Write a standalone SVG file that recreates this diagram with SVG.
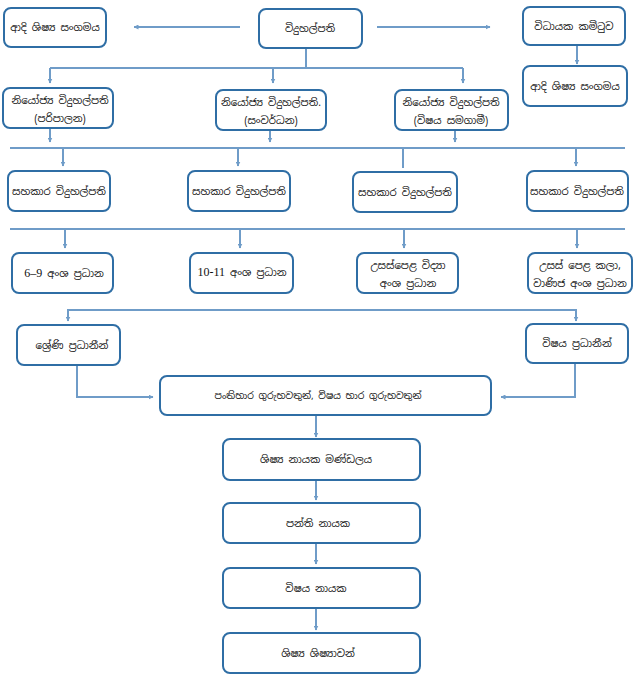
<svg xmlns="http://www.w3.org/2000/svg" width="641" height="679" viewBox="0 0 641 679">
<style>
.box{fill:#fff;stroke:#2f6ea5;stroke-width:2}
.c{fill:none;stroke:#6f9cc8;stroke-width:2}
.t{font-family:"Noto Sans Sinhala","Noto Sans","Liberation Sans",sans-serif;font-size:10.2px;fill:#111;text-anchor:middle}
.n{font-family:"Liberation Serif",serif;font-size:12px}
</style>
<defs>
<marker id="a" viewBox="0 0 10 10" refX="9" refY="5" markerWidth="5" markerHeight="5" orient="auto" markerUnits="userSpaceOnUse">
<path d="M0,0 L10,5 L0,10 z" fill="#6f9cc8"/>
</marker>
</defs>
<rect width="641" height="679" fill="#fff"/>
<g id="connectors">
<path class="c" d="M240,27 H134" marker-end="url(#a)"/>
<path class="c" d="M377,27 H490" marker-end="url(#a)"/>
<path class="c" d="M577,45 V64" marker-end="url(#a)"/>
<path class="c" d="M306,48 V68"/>
<path class="c" d="M50,68 H463"/>
<path class="c" d="M50,68 V83" marker-end="url(#a)"/>
<path class="c" d="M273,68 V83" marker-end="url(#a)"/>
<path class="c" d="M463,68 V83" marker-end="url(#a)"/>
<path class="c" d="M50,128 V142" marker-end="url(#a)"/>
<path class="c" d="M270,130 V142" marker-end="url(#a)"/>
<path class="c" d="M455,130 V142" marker-end="url(#a)"/>
<path class="c" d="M10,148 H625"/>
<path class="c" d="M63,148 V166" marker-end="url(#a)"/>
<path class="c" d="M238,148 V166" marker-end="url(#a)"/>
<path class="c" d="M403,148 V168"/>
<path class="c" d="M576,148 V166" marker-end="url(#a)"/>
<path class="c" d="M10,229 H625"/>
<path class="c" d="M65,229 V248" marker-end="url(#a)"/>
<path class="c" d="M240,229 V248" marker-end="url(#a)"/>
<path class="c" d="M404,229 V248" marker-end="url(#a)"/>
<path class="c" d="M577,229 V248" marker-end="url(#a)"/>
<path class="c" d="M68,316 V310 H576 V316"/>
<path class="c" d="M68,312 V321" marker-end="url(#a)"/>
<path class="c" d="M576,312 V321" marker-end="url(#a)"/>
<path class="c" d="M77,365 V397 H153" marker-end="url(#a)"/>
<path class="c" d="M575,363 V397 H501" marker-end="url(#a)"/>
<path class="c" d="M316,415 V437" marker-end="url(#a)"/>
<path class="c" d="M316,480 V500" marker-end="url(#a)"/>
<path class="c" d="M316,543 V564" marker-end="url(#a)"/>
<path class="c" d="M316,608 V630" marker-end="url(#a)"/>
</g>
<g id="n1"><rect class="box" x="4" y="8" width="102" height="39" rx="7"/><text class="t" x="55" y="31">ආදි ශිෂ්‍ය සංගමය</text></g>
<g id="n2"><rect class="box" x="259" y="9" width="103" height="39" rx="7"/><text class="t" x="310" y="32">විදුහල්පති</text></g>
<g id="n3"><rect class="box" x="523" y="7" width="102" height="38" rx="7"/><text class="t" x="574" y="30">විධායක කමිටුව</text></g>
<g id="n4"><rect class="box" x="523" y="66" width="104" height="40" rx="7"/><text class="t" x="575" y="90">ආදි ශිෂ්‍ය සංගමය</text></g>
<g id="n5"><rect class="box" x="3" y="88" width="110" height="40" rx="7"/><text class="t" x="60" y="104">නියෝජ්‍ය විදුහල්පති</text><text class="t" x="60" y="122">(පරිපාලන)</text></g>
<g id="n6"><rect class="box" x="216" y="90" width="110" height="40" rx="7"/><text class="t" x="271" y="106">නියෝජ්‍ය විදුහල්පති.</text><text class="t" x="271" y="124">(සංවර්ධන)</text></g>
<g id="n7"><rect class="box" x="395" y="90" width="113" height="40" rx="7"/><text class="t" x="451" y="106">නියෝජ්‍ය විදුහල්පති</text><text class="t" x="451" y="124">(විෂය සමගාමී)</text></g>
<g id="n8"><rect class="box" x="8" y="171" width="102" height="40" rx="7"/><text class="t" x="59" y="195">සහකාර විදුහල්පති</text></g>
<g id="n9"><rect class="box" x="188" y="171" width="102" height="40" rx="7"/><text class="t" x="239" y="195">සහකාර විදුහල්පති</text></g>
<g id="n10"><rect class="box" x="353" y="172" width="104" height="40" rx="7"/><text class="t" x="405" y="196">සහකාර විදුහල්පති</text></g>
<g id="n11"><rect class="box" x="527" y="171" width="101" height="40" rx="7"/><text class="t" x="577" y="195">සහකාර විදුහල්පති</text></g>
<g id="n12"><rect class="box" x="12" y="253" width="101" height="40" rx="7"/><text class="t" x="64" y="277"><tspan class="n">6–9</tspan> අංශ ප්‍රධාන</text></g>
<g id="n13"><rect class="box" x="190" y="253" width="103" height="40" rx="7"/><text class="t" x="242" y="276"><tspan class="n">10-11</tspan> අංශ ප්‍රධාන</text></g>
<g id="n14"><rect class="box" x="357" y="253" width="101" height="40" rx="7"/><text class="t" x="408" y="269">උසස්පෙළ විද්‍යා</text><text class="t" x="408" y="287">අංශ ප්‍රධාන</text></g>
<g id="n15"><rect class="box" x="528" y="253" width="104" height="40" rx="7"/><text class="t" x="580" y="269">උසස් පෙළ කලා,</text><text class="t" x="580" y="287">වාණිජ අංශ ප්‍රධාන</text></g>
<g id="n16"><rect class="box" x="17" y="325" width="103" height="40" rx="7"/><text class="t" x="72" y="349">ශ්‍රේණි ප්‍රධානීන්</text></g>
<g id="n17"><rect class="box" x="526" y="324" width="102" height="39" rx="7"/><text class="t" x="577" y="347">විෂය ප්‍රධානීන්</text></g>
<g id="n18"><rect class="box" x="160" y="376" width="331" height="39" rx="7"/><text class="t" x="318" y="399" style="font-size:9.4px">පංතිභාර ගුරුභවතුන්, විෂය භාර ගුරුභවතුන්</text></g>
<g id="n19"><rect class="box" x="223" y="439" width="197" height="41" rx="7"/><text class="t" x="316" y="463">ශිෂ්‍ය නායක මණ්ඩලය</text></g>
<g id="n20"><rect class="box" x="223" y="503" width="197" height="40" rx="7"/><text class="t" x="318" y="527">පන්ති නායක</text></g>
<g id="n21"><rect class="box" x="223" y="568" width="197" height="40" rx="7"/><text class="t" x="316" y="592">විෂය නායක</text></g>
<g id="n22"><rect class="box" x="223" y="633" width="197" height="40" rx="7"/><text class="t" x="318" y="657">ශිෂ්‍ය ශිෂ්‍යාවන්</text></g>
</svg>
